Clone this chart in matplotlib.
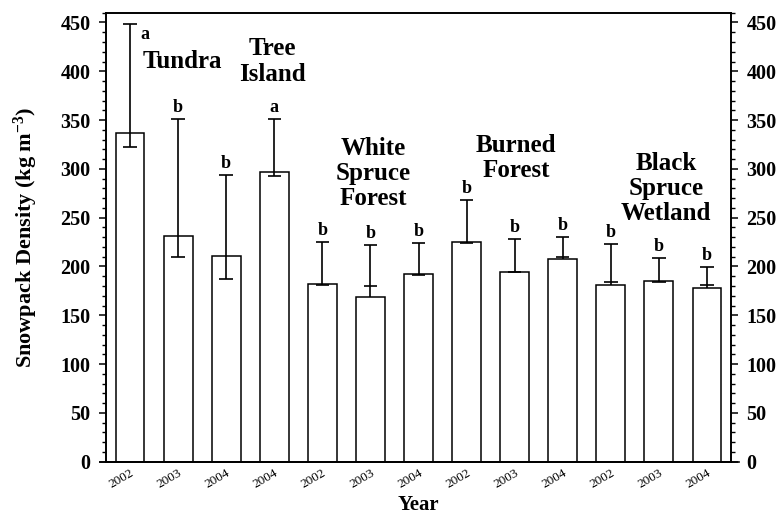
import numpy as np
import matplotlib
matplotlib.use("Agg")
import matplotlib.pyplot as plt
from matplotlib.ticker import MultipleLocator

plt.rcParams['font.family'] = ['Liberation Serif', 'DejaVu Serif']
plt.rcParams['font.weight'] = 'bold'
plt.rcParams['mathtext.fontset'] = 'custom'
plt.rcParams['mathtext.rm'] = 'Liberation Serif:bold'
plt.rcParams['mathtext.bf'] = 'Liberation Serif:bold'
plt.rcParams['mathtext.default'] = 'bf'

# 데이터
years = ['2002', '2003', '2004', '2004', '2002', '2003', '2004',
         '2002', '2003', '2004', '2002', '2003', '2004']
density = [336.6, 231.7, 210.8, 297.0, 182.5, 169.1, 192.4,
           225.2, 194.8, 207.8, 181.4, 184.9, 178.4]
err_upper = [448.6, 351.3, 293.6, 351.6, 224.9, 222.1, 224.2,
             268.2, 228.0, 230.0, 222.8, 208.5, 199.9]
err_lower = [321.9, 210.1, 187.0, 292.8, 181.1, 180.4, 191.5,
             224.5, 194.5, 209.8, 184.2, 184.6, 181.1]
letters = ['a', 'b', 'b', 'a', 'b', 'b', 'b', 'b', 'b', 'b', 'b', 'b', 'b']

x = np.arange(len(years))
density = np.array(density)
err_upper = np.array(err_upper)
err_lower = np.array(err_lower)

fig = plt.figure(figsize=(7.83, 5.16), dpi=100)
ax = fig.add_axes([0.1354, 0.1052, 0.7982, 0.8702])

ax.bar(x, density, width=0.6, color='white', edgecolor='black', linewidth=1.1, zorder=2)

# 에러바 (위/아래 캡)
cap = 0.14
ax.vlines(x, np.minimum(density, err_lower), err_upper, color='black', linewidth=1.2, zorder=3)
ax.hlines(err_upper, x - cap, x + cap, color='black', linewidth=1.2, zorder=3)
ax.hlines(err_lower, x - cap, x + cap, color='black', linewidth=1.2, zorder=3)

# 유의성 문자
for i in range(len(x)):
    if i == 0:
        ax.annotate(letters[i], (x[i], err_upper[i]), xytext=(10.5, -8), textcoords='offset points',
                    ha='center', va='center', fontsize=13, fontweight='bold')
    else:
        ax.annotate(letters[i], (x[i], err_upper[i]), xytext=(0, 2), textcoords='offset points',
                    ha='center', va='bottom', fontsize=13, fontweight='bold')

# 식생 유형 라벨
group_kw = dict(ha='center', va='center', fontsize=18, fontweight='bold', linespacing=1.12)
ax.text(1.08, 410, 'Tundra', **group_kw)
ax.text(2.96, 410, 'Tree\nIsland', **group_kw)
ax.text(5.06, 295, 'White\nSpruce\nForest', **group_kw)
ax.text(8.03, 311, 'Burned\nForest', **group_kw)
ax.text(11.15, 280, 'Black\nSpruce\nWetland', **group_kw)

ax.set_xlim(-0.5, 12.5)
ax.set_ylim(0, 460)
ax.set_xticks(x)
ax.set_xticklabels(years, rotation=30, ha='right', rotation_mode='anchor',
                   fontsize=9.5, fontweight='normal')
ax.tick_params(axis='x', length=0, pad=4)

ax.yaxis.set_major_locator(MultipleLocator(50))
ax.yaxis.set_minor_locator(MultipleLocator(10))
ax.tick_params(axis='y', which='major', direction='out', length=5, width=1.1, labelsize=14.5, pad=6)
ax.tick_params(axis='y', which='minor', direction='out', length=3, width=1.0)

ax2 = ax.twinx()
ax2.set_ylim(0, 460)
ax2.yaxis.set_major_locator(MultipleLocator(50))
ax2.yaxis.set_minor_locator(MultipleLocator(10))
ax2.tick_params(axis='y', which='major', direction='out', length=5, width=1.1, labelsize=14.5, pad=6)
ax2.tick_params(axis='y', which='minor', direction='out', length=3, width=1.0)

for a in (ax, ax2):
    for s in a.spines.values():
        s.set_linewidth(1.2)

# 아래 축선 연장
ax.plot([-0.0096, 1.0128], [0, 0], transform=ax.transAxes, color='black', linewidth=1.2, clip_on=False)

ax.set_ylabel(r'Snowpack Density (kg m$^{-3}$)', fontsize=16, fontweight='bold')
ax.yaxis.set_label_coords(-0.106, 0.5)
ax.set_xlabel('Year', fontsize=15, fontweight='bold', va='top')
ax.xaxis.set_label_coords(0.5, -0.074)

fig.savefig('out.png', dpi=100)
